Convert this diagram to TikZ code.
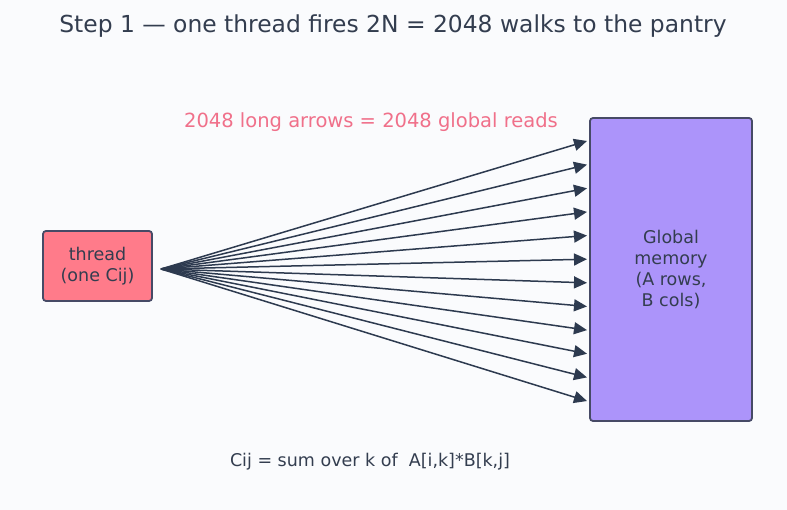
\documentclass[tikz,border=0pt]{standalone}
\usepackage{fontspec}
\setmainfont{DejaVu Sans}
\usetikzlibrary{arrows.meta}
\definecolor{bg}{HTML}{FAFBFD}
\definecolor{ink}{HTML}{333D4F}
\definecolor{edge}{HTML}{464A66}
\definecolor{pinkfill}{HTML}{FF7B8A}
\definecolor{purplefill}{HTML}{AC94FA}
\definecolor{pinktext}{HTML}{F0708A}
\definecolor{arrowc}{HTML}{2D3A4F}
\tikzset{
  box/.style={draw=edge, line width=1.8pt, rounded corners=3pt, align=center, text=ink, font=\fontsize{17.5}{21}\selectfont, inner sep=0pt},
  walk/.style={draw=arrowc, line width=1.5pt, -{Triangle[length=13pt,width=12pt]}},
}
\begin{document}
\begin{tikzpicture}[x=1pt,y=-1pt]
\path[fill=bg] (0,0) rectangle (787,510);
\useasboundingbox (0,0) rectangle (787,510);
\node[text=ink, font=\fontsize{23.4}{27}\selectfont] (title) at (393,26) {Step 1 — one thread fires 2N = 2048 walks to the pantry};
\node[box, fill=pinkfill, minimum width=109pt, minimum height=70pt] (thread) at (97.5,266) {thread\\(one Cij)};
\node[box, fill=purplefill, minimum width=162pt, minimum height=303pt] (mem) at (671,269.5) {Global\\memory\\(A rows,\\B cols)};
\node[text=pinktext, font=\fontsize{19.5}{22}\selectfont] (lbl) at (371,122.5) {2048 long arrows = 2048 global reads};
\node[text=ink, font=\fontsize{17.5}{20}\selectfont] (formula) at (370,461.5) {Cij = sum over k of\ \ A[i,k]*B[k,j]};
\coordinate (src) at (161,269);
\foreach \i in {0,...,11} {
  \coordinate (t\i) at (587,{141+\i*23.64});
  \draw[walk] (src) -- (t\i);
}
\end{tikzpicture}
\end{document}
